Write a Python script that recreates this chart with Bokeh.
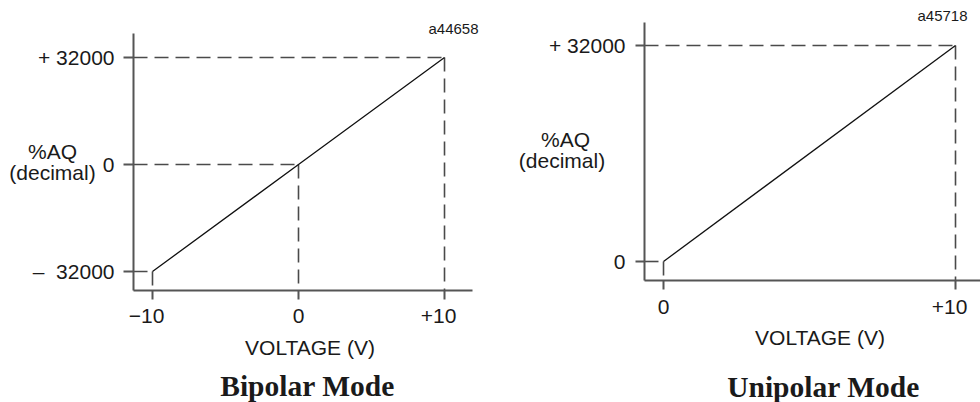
from bokeh.plotting import figure
from bokeh.models import Range1d, FixedTicker, Label
from bokeh.layouts import row
from bokeh.embed import file_html
from bokeh.resources import INLINE

# ---------------- data ----------------
bipolar_voltage = [-10, 0, 10]
bipolar_aq = [-32000, 0, 32000]
bipolar_xtick_labels = ["\u221210\u00a0\u00a0", "0", "+10\u00a0\u00a0"]
bipolar_ytick_labels = ["\u2013\u00a0\u00a032000", "0", "+ 32000"]

unipolar_voltage = [0, 10]
unipolar_aq = [0, 32000]
unipolar_xtick_labels = ["0", "+10\u00a0\u00a0"]
unipolar_ytick_labels = ["0", "+ 32000"]

bipolar_title = "Bipolar Mode"
unipolar_title = "Unipolar Mode"
x_label = "VOLTAGE (V)"
y_label_1 = "%AQ"
y_label_2 = "(decimal)"
bipolar_ref = "a44658"
unipolar_ref = "a45718"

# ---------------- layout / styles ----------------
SANS = "Liberation Sans"
SERIF = "Liberation Serif"
TXT = "#1a1a1a"
AXIS = "#555555"
DASH = "#4a4a4a"
W, H = 490, 402

# visible plot ranges (whole panel) and axis extents, per chart
BI_XR, BI_YR = (-20.41, 13.15), (-71178, 49047)
BI_AX_X, BI_AX_Y = (-11.30, 11.92), (-37682, 39178)
UNI_XR, UNI_YR = (-5.925, 10.856), (-20889, 38667)
UNI_AX_X, UNI_AX_Y = (-0.651, 10.856), (-2815, 35407)


def make_fig(xr, yr, ax_x, ax_y, xticks, xlabels, yticks, ylabels, ytick_out, ystandoff):
    p = figure(width=W, height=H, x_range=Range1d(*xr), y_range=Range1d(*yr),
               output_backend="svg", toolbar_location=None,
               min_border=0, min_border_left=0, min_border_right=0,
               min_border_top=0, min_border_bottom=0)
    p.outline_line_color = None
    p.grid.visible = False
    p.background_fill_color = "white"
    p.border_fill_color = "white"
    for ax in (p.xaxis[0], p.yaxis[0]):
        ax.axis_line_color = AXIS
        ax.axis_line_width = 2
        ax.major_tick_line_color = AXIS
        ax.major_tick_line_width = 2
        ax.major_tick_in = 0
        ax.minor_tick_in = 0
        ax.minor_tick_out = 0
        ax.major_label_text_font = SANS
        ax.major_label_text_font_size = "21px"
        ax.major_label_text_color = TXT
    xa, ya = p.xaxis[0], p.yaxis[0]
    xa.ticker = FixedTicker(ticks=xticks)
    xa.major_label_overrides = {t: s for t, s in zip(xticks, xlabels)}
    xa.major_tick_out = 9
    xa.major_label_standoff = 5
    xa.fixed_location = ax_y[0]
    xa.bounds = ax_x
    ya.ticker = FixedTicker(ticks=yticks)
    ya.major_label_overrides = {t: s for t, s in zip(yticks, ylabels)}
    ya.major_tick_out = ytick_out
    ya.major_label_standoff = ystandoff
    ya.fixed_location = ax_x[0]
    ya.bounds = ax_y
    return p


def add_text(p, cx, cy, text, size, font=SANS, style="normal", align="center"):
    xs, xe = p.x_range.start, p.x_range.end
    ys, ye = p.y_range.start, p.y_range.end
    x = xs + cx / W * (xe - xs)
    y = ys + (H - cy) / H * (ye - ys)
    p.add_layout(Label(x=x, y=y, x_units="data", y_units="data", text=text,
                       text_font=font, text_font_size=size, text_font_style=style,
                       text_color=TXT, text_align=align, text_baseline="middle"))


def draw_curve(p, volts, aq, ax_x, ax_y):
    n = len(volts)
    # horizontal guides from the y axis to each point
    p.segment(x0=[ax_x[0]] * n, y0=aq, x1=volts, y1=aq,
              line_color=DASH, line_width=1.6, line_dash="14 7")
    # vertical guides from each point down to the x axis
    p.segment(x0=volts, y0=aq, x1=volts, y1=[ax_y[0]] * n,
              line_color=DASH, line_width=1.6, line_dash="14 7")
    p.line(volts, aq, line_color="#111111", line_width=1.3)


# ---------------- bipolar ----------------
p1 = make_fig(BI_XR, BI_YR, BI_AX_X, BI_AX_Y,
              bipolar_voltage, bipolar_xtick_labels, bipolar_aq, bipolar_ytick_labels, 10, 9)
draw_curve(p1, bipolar_voltage, bipolar_aq, BI_AX_X, BI_AX_Y)
add_text(p1, 52, 151, y_label_1, "21px")
add_text(p1, 52, 172, y_label_2, "21px")
add_text(p1, 309.5, 347, x_label, "21px")
add_text(p1, 307, 385, bipolar_title, "29.5px", font=SERIF, style="bold")
add_text(p1, 478, 28, bipolar_ref, "15px", align="right")

# ---------------- unipolar ----------------
p2 = make_fig(UNI_XR, UNI_YR, UNI_AX_X, UNI_AX_Y,
              unipolar_voltage, unipolar_xtick_labels, unipolar_aq, unipolar_ytick_labels, 9, 10)
draw_curve(p2, unipolar_voltage, unipolar_aq, UNI_AX_X, UNI_AX_Y)
add_text(p2, 75, 139, y_label_1, "21px")
add_text(p2, 71.5, 160, y_label_2, "21px")
add_text(p2, 329.5, 337, x_label, "21px")
add_text(p2, 333, 386, unipolar_title, "29.5px", font=SERIF, style="bold")
add_text(p2, 477, 15, unipolar_ref, "15px", align="right")

layout = row(p1, p2)
open("out.html", "w").write(file_html(layout, INLINE))
